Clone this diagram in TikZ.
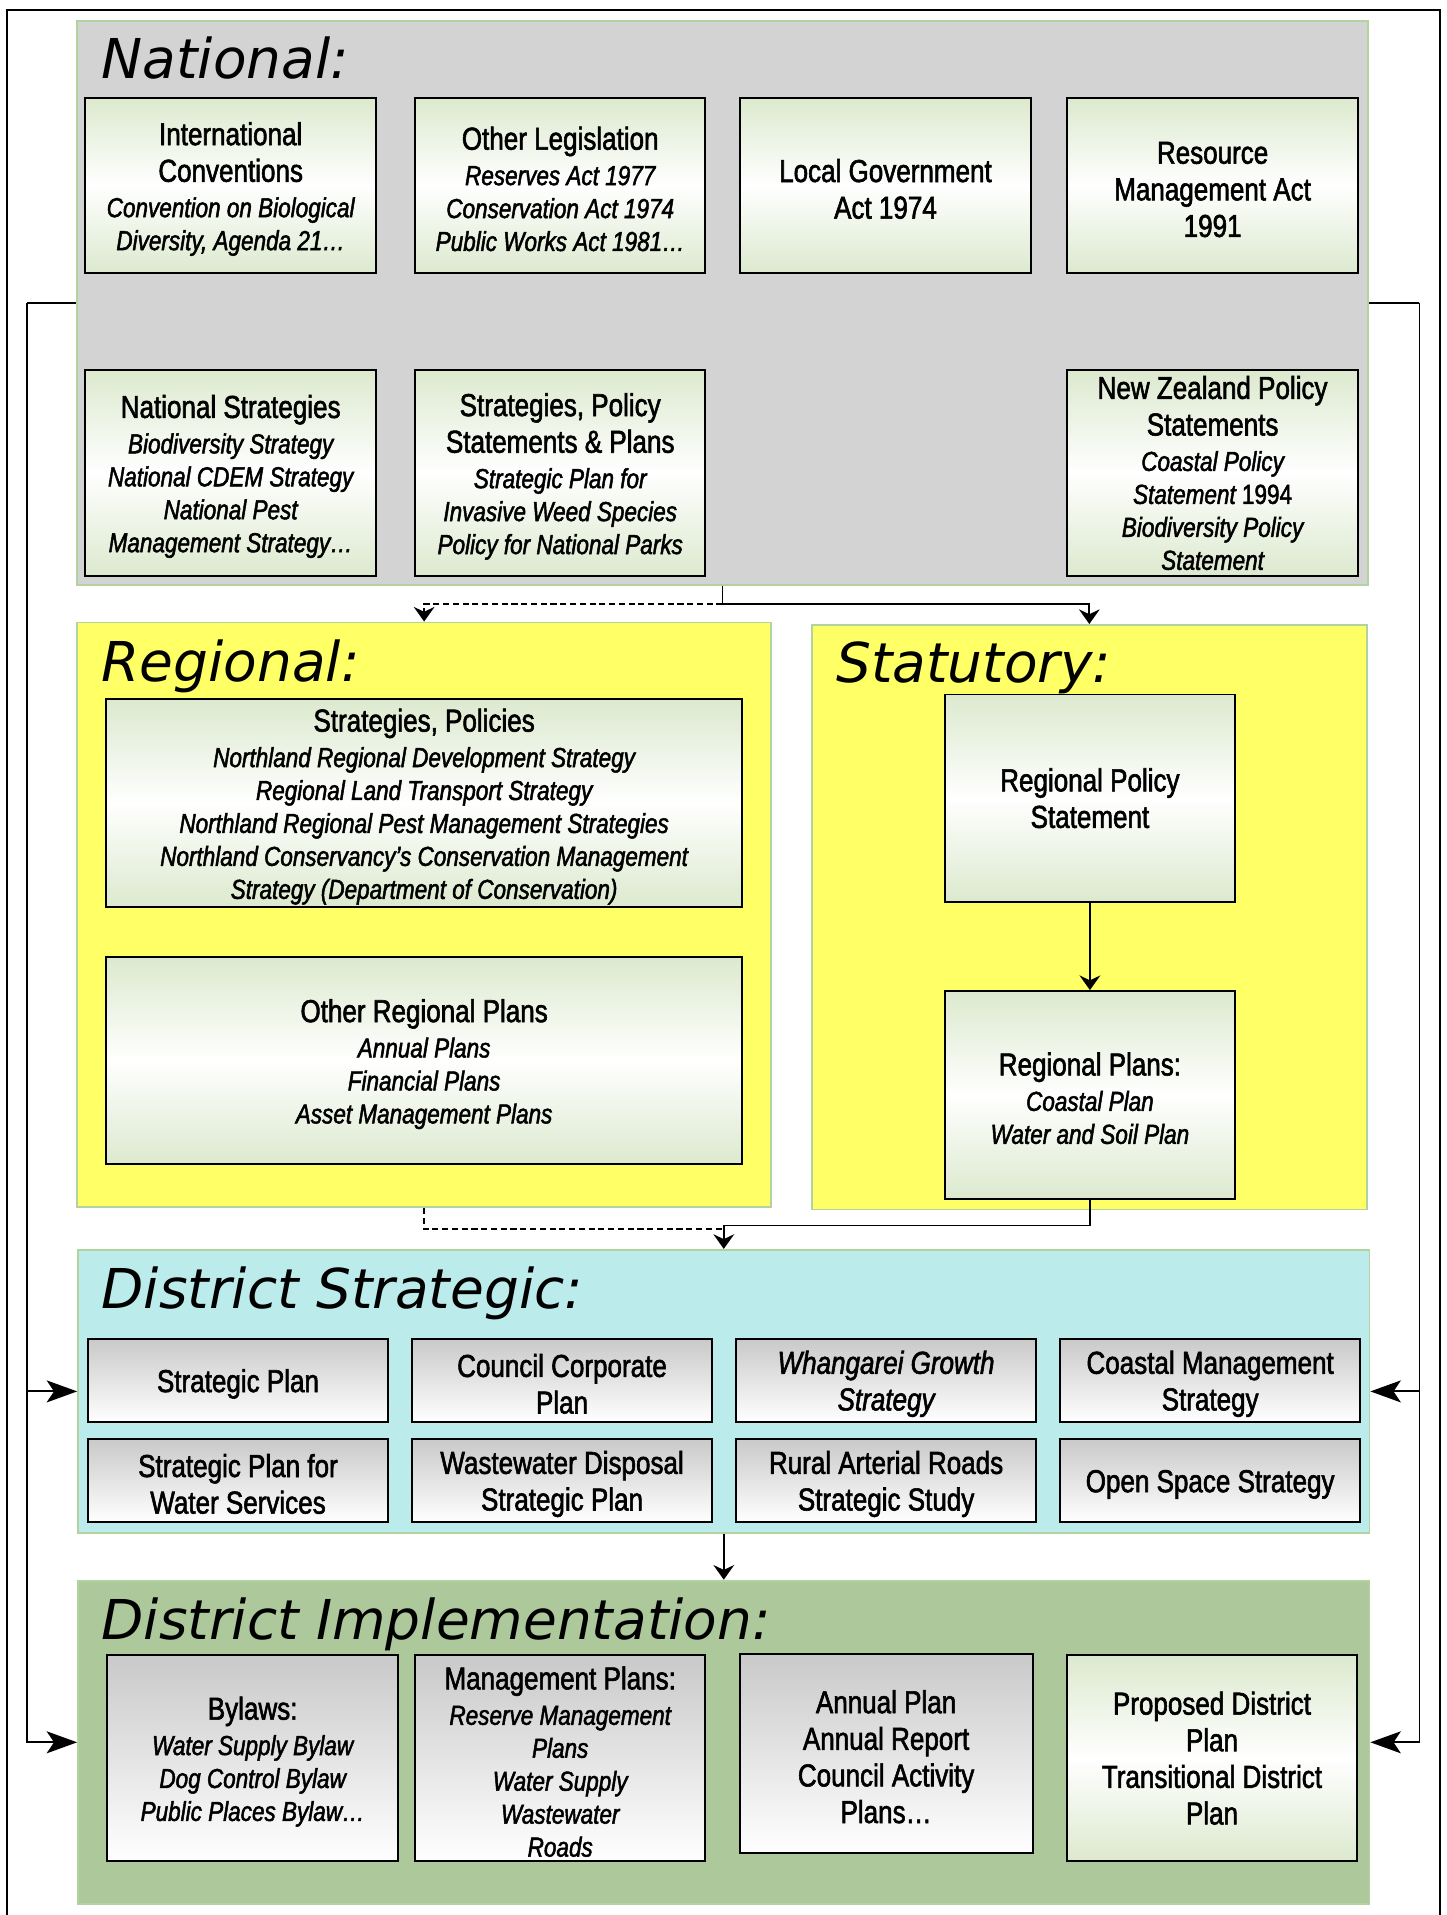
\documentclass[tikz,border=0pt]{standalone}
\usepackage{fontspec}
\newfontfamily\boxfont[FakeStretch=0.82,FakeBold=1.8]{Liberation Sans}
\newfontfamily\headfont{DejaVu Sans}
\usepackage{tikz}
\usetikzlibrary{arrows.meta}
\definecolor{natgray}{HTML}{D3D3D3}
\definecolor{edgegreen}{HTML}{B2D29E}
\definecolor{regyellow}{HTML}{FFFF66}
\definecolor{stratcyan}{HTML}{BBEBEA}
\definecolor{implgreen}{HTML}{ADC89A}
\definecolor{boxgreen}{HTML}{DCE9CE}
\definecolor{boxgray}{HTML}{C9C9C9}
\newcommand{\detl}[1]{{\fontsize{22.5}{27}\selectfont\itshape #1}}
\newcommand{\pushdown}{\rule{0pt}{24.5pt}}
\tikzset{
  areabox/.style={draw=edgegreen, line width=1.5pt, inner sep=0pt},
  areatitle/.style={anchor=base west, inner sep=0pt, font=\headfont\itshape\fontsize{45}{50}\selectfont},
  boxtext/.style={font=\boxfont\fontsize{26}{27}\selectfont},
  greenbox/.style={draw=black, line width=1.6pt, top color=boxgreen, bottom color=boxgreen, middle color=white, align=center, inner sep=1pt, minimum width=238pt, boxtext},
  greybox/.style={draw=black, line width=1.6pt, top color=boxgray, bottom color=white, align=center, inner sep=1pt, minimum width=238pt, boxtext},
  stratbox/.style={greybox, minimum width=246pt, minimum height=68pt},
  conn/.style={draw=black, line width=1.5pt},
  dashconn/.style={conn, dash pattern=on 5pt off 3pt},
  arr/.style={conn, -{Stealth[length=12pt,width=17pt,inset=4pt]}},
  sidearr/.style={conn, -{Stealth[length=25pt,width=18pt,inset=6pt]}},
}

\begin{document}
\begin{tikzpicture}[x=1pt,y=-1pt]
\useasboundingbox (0,0) rectangle (1185,1569);
\draw[line width=1.5pt] (6,1569) -- (6,8) -- (1180,8) -- (1180,1569);

\node[areabox, fill=natgray, minimum width=1058pt, minimum height=462pt] (nat) at (592,248) {};
\node[areabox, fill=regyellow, minimum width=569pt, minimum height=479pt] (reg) at (347.5,749.5) {};
\node[areabox, fill=regyellow, minimum width=455pt, minimum height=479pt] (stat) at (892.5,751.5) {};
\node[areabox, fill=stratcyan, minimum width=1058pt, minimum height=232pt] (dstr) at (593,1140) {};
\node[areabox, fill=implgreen, minimum width=1058pt, minimum height=265pt] (impl) at (593,1427.5) {};

\node[areatitle] (nattitle) at (83,64) {National:};
\node[areatitle] (regtitle) at (83,558) {Regional:};
\node[areatitle] (stattitle) at (685,559) {Statutory:};
\node[areatitle] (dstrtitle) at (83,1072) {District Strategic:};
\node[areatitle] (impltitle) at (83,1343) {District Implementation:};

\node[greenbox, minimum height=144pt] (intconv) at (189,152) {\pushdown International\\[3pt]Conventions\\[2pt]\detl{Convention on Biological}\\\detl{Diversity, Agenda 21…}};
\node[greenbox, minimum height=144pt] (otherleg) at (459,152) {\pushdown Other Legislation\\[2pt]\detl{Reserves Act 1977}\\\detl{Conservation Act 1974}\\\detl{Public Works Act 1981…}};
\node[greenbox, minimum height=144pt] (lga) at (725.5,152) {\pushdown Local Government\\[3pt]Act 1974};
\node[greenbox, minimum height=144pt] (rma) at (993.5,152) {\pushdown Resource\\[3pt]Management Act\\[3pt]1991};
\node[greenbox, minimum height=169pt] (natstrat) at (189,387.5) {\pushdown National Strategies\\[2pt]\detl{Biodiversity Strategy}\\\detl{National CDEM Strategy}\\\detl{National Pest}\\\detl{Management Strategy…}};
\node[greenbox, minimum height=169pt] (natpol) at (459,387.5) {\pushdown Strategies, Policy\\[3pt]Statements \& Plans\\[2pt]\detl{Strategic Plan for}\\\detl{Invasive Weed Species}\\\detl{Policy for National Parks}};
\node[greenbox, minimum height=169pt] (nzps) at (993.5,387.5) {New Zealand Policy\\[3pt]Statements\\[2pt]\detl{Coastal Policy}\\\detl{Statement {\upshape 1994}}\\\detl{Biodiversity Policy}\\\detl{Statement}};

\node[greenbox, minimum width=521pt, minimum height=170pt] (regstrat) at (347.5,658) {\pushdown Strategies, Policies\\[2pt]\detl{Northland Regional Development Strategy}\\\detl{Regional Land Transport Strategy}\\\detl{Northland Regional Pest Management Strategies}\\\detl{Northland Conservancy’s Conservation Management}\\\detl{Strategy (Department of Conservation)}};
\node[greenbox, minimum width=521pt, minimum height=170pt] (regother) at (347.5,869) {\pushdown Other Regional Plans\\[2pt]\detl{Annual Plans}\\\detl{Financial Plans}\\\detl{Asset Management Plans}};
\node[greenbox, minimum height=170pt] (rps) at (893,654) {Regional Policy\\[3pt]Statement};
\node[greenbox, minimum height=170pt] (rp) at (893,897) {\pushdown Regional Plans:\\[2pt]\detl{Coastal Plan}\\\detl{Water and Soil Plan}};

\node[stratbox] (splan) at (195,1131) {\pushdown Strategic Plan};
\node[stratbox] (corpplan) at (460.5,1131) {\pushdown Council Corporate\\[3pt]Plan};
\node[stratbox] (growth) at (726,1131) {\pushdown{\itshape Whangarei Growth}\\[3pt]{\itshape Strategy}};
\node[stratbox] (coastal) at (991.5,1131) {\pushdown Coastal Management\\[3pt]Strategy};
\node[stratbox] (watersvc) at (195,1213) {\pushdown Strategic Plan for\\[3pt]Water Services};
\node[stratbox] (wastewater) at (460.5,1213) {\pushdown Wastewater Disposal\\[3pt]Strategic Plan};
\node[stratbox] (roads) at (726,1213) {\pushdown Rural Arterial Roads\\[3pt]Strategic Study};
\node[stratbox] (openspace) at (991.5,1213) {\pushdown Open Space Strategy};

\node[greybox, minimum height=169pt] (bylaws) at (207,1440.5) {\pushdown Bylaws:\\[2pt]\detl{Water Supply Bylaw}\\\detl{Dog Control Bylaw}\\\detl{Public Places Bylaw…}};
\node[greybox, minimum height=169pt] (mgmt) at (459,1440.5) {\pushdown Management Plans:\\[2pt]\detl{Reserve Management}\\\detl{Plans}\\\detl{Water Supply}\\\detl{Wastewater}\\\detl{Roads}};
\node[greybox, minimum width=240pt, minimum height=163pt] (annual) at (726,1436.5) {\pushdown Annual Plan\\[3pt]Annual Report\\[3pt]Council Activity\\[3pt]Plans…};
\node[greenbox, minimum height=169pt] (distplan) at (993,1440.5) {Proposed District\\[3pt]Plan\\[3pt]Transitional District\\[3pt]Plan};

\coordinate (natsplit) at (592,495);
\draw[conn] (nat.south) -- (natsplit);
\draw[arr] (natsplit) -| (stat.north);
\draw[arr, dash pattern=on 5pt off 3pt] (natsplit) -| (reg.north);

\draw[arr] (rps) -- (rp);

\coordinate (regsplit) at (593,1004);
\coordinate (regdash) at (593,1007);
\draw[dashconn] (reg.south) |- (regdash);
\draw[conn] (rp.south) |- (regsplit);
\draw[arr] (regsplit) -- (dstr.north);

\draw[arr] (dstr.south) -- (impl.north);

\coordinate (lrail) at (22,248);
\coordinate (rrail) at (1163,248);
\draw[conn] (nat.west) -- (lrail);
\draw[sidearr] (lrail) |- (dstr.west);
\draw[sidearr] (lrail) |- (impl.west);
\draw[conn] (nat.east) -- (rrail);
\draw[sidearr] (rrail) |- (dstr.east);
\draw[sidearr] (rrail) |- (impl.east);
\end{tikzpicture}
\end{document}
